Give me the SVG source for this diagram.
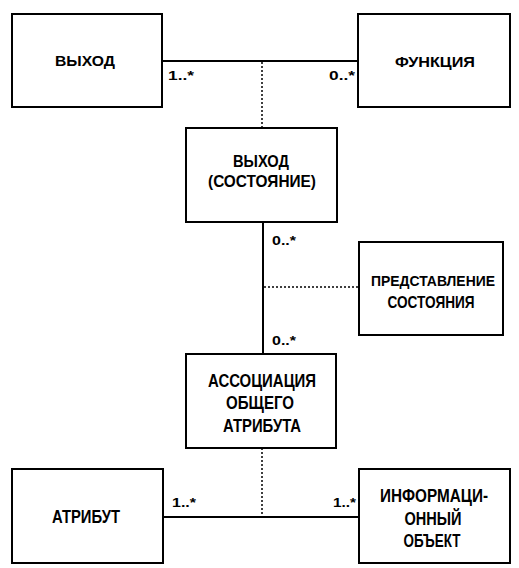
<svg xmlns="http://www.w3.org/2000/svg" width="519" height="568" viewBox="0 0 519 568">
<style>
.box{fill:#fff;stroke:#000;stroke-width:2}
.t{font-family:"Liberation Sans",Arial,sans-serif;font-weight:bold;text-anchor:middle;fill:#000}
.s15{font-size:15px}
.s17{font-size:17px}
.s19{font-size:19px}
.m{font-family:"Liberation Sans",Arial,sans-serif;font-size:13px;font-weight:bold;fill:#000}
.solid{stroke:#000;stroke-width:2;fill:none}
.dot{stroke:#000;stroke-width:1.5;stroke-dasharray:2 2;fill:none}
</style>
<rect width="519" height="568" fill="#fff"/>
<g id="connectors">
<line class="solid" x1="162" y1="61" x2="358" y2="61"/>
<line class="dot" x1="262" y1="62" x2="262" y2="128"/>
<line class="solid" x1="263" y1="222" x2="263" y2="354"/>
<line class="dot" x1="264" y1="287" x2="359" y2="287"/>
<line class="dot" x1="262" y1="448" x2="262" y2="516"/>
<line class="solid" x1="163" y1="517" x2="359" y2="517"/>
<text class="m" x="168" y="80" textLength="26" lengthAdjust="spacingAndGlyphs">1..*</text>
<text class="m" x="329" y="80" textLength="26" lengthAdjust="spacingAndGlyphs">0..*</text>
<text class="m" x="272" y="245" textLength="24" lengthAdjust="spacingAndGlyphs">0..*</text>
<text class="m" x="272" y="345" textLength="24" lengthAdjust="spacingAndGlyphs">0..*</text>
<text class="m" x="172" y="507" textLength="24" lengthAdjust="spacingAndGlyphs">1..*</text>
<text class="m" x="333" y="507" textLength="23" lengthAdjust="spacingAndGlyphs">1..*</text>
</g>
<g id="vyhod">
<rect class="box" x="12" y="14" width="150" height="93"/>
<text class="t s15" x="85" y="66" textLength="60" lengthAdjust="spacingAndGlyphs">ВЫХОД</text>
</g>
<g id="funkciya">
<rect class="box" x="358" y="14" width="152" height="93"/>
<text class="t s15" x="435" y="67" textLength="80" lengthAdjust="spacingAndGlyphs">ФУНКЦИЯ</text>
</g>
<g id="vyhod-sostoyanie">
<rect class="box" x="186" y="128" width="151" height="94"/>
<text class="t s17" x="261" y="167" textLength="56" lengthAdjust="spacingAndGlyphs">ВЫХОД</text>
<text class="t s17" x="262" y="187" textLength="108" lengthAdjust="spacingAndGlyphs">(СОСТОЯНИЕ)</text>
</g>
<g id="predstavlenie">
<rect class="box" x="359" y="242" width="144" height="93"/>
<text class="t s15" x="433" y="286" textLength="124" lengthAdjust="spacingAndGlyphs">ПРЕДСТАВЛЕНИЕ</text>
<text class="t s17" x="431" y="308" textLength="87" lengthAdjust="spacingAndGlyphs">СОСТОЯНИЯ</text>
</g>
<g id="associaciya">
<rect class="box" x="186" y="354" width="150" height="94"/>
<text class="t s19" x="262" y="387" textLength="108" lengthAdjust="spacingAndGlyphs">АССОЦИАЦИЯ</text>
<text class="t s19" x="260" y="409" textLength="68" lengthAdjust="spacingAndGlyphs">ОБЩЕГО</text>
<text class="t s19" x="262" y="432" textLength="78" lengthAdjust="spacingAndGlyphs">АТРИБУТА</text>
</g>
<g id="atribut">
<rect class="box" x="12" y="469" width="151" height="94"/>
<text class="t s19" x="86" y="523" textLength="68" lengthAdjust="spacingAndGlyphs">АТРИБУТ</text>
</g>
<g id="info-obekt">
<rect class="box" x="359" y="469" width="151" height="94"/>
<text class="t s19" x="434" y="502" textLength="108" lengthAdjust="spacingAndGlyphs">ИНФОРМАЦИ-</text>
<text class="t s19" x="433" y="525" textLength="57" lengthAdjust="spacingAndGlyphs">ОННЫЙ</text>
<text class="t s19" x="432" y="547" textLength="57" lengthAdjust="spacingAndGlyphs">ОБЪЕКТ</text>
</g>
</svg>
